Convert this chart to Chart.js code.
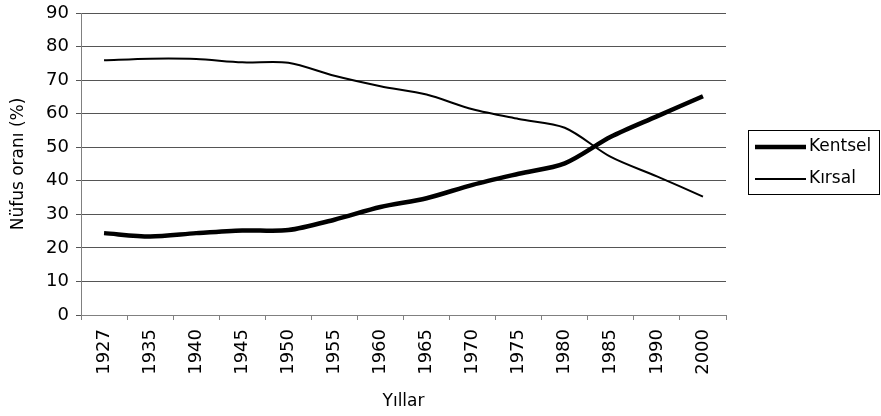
<!DOCTYPE html>
<html>
<head>
<meta charset="utf-8">
<script src="https://cdn.jsdelivr.net/npm/chart.js@4/dist/chart.umd.min.js"></script>
<style>
    html, body { margin: 0; padding: 0; background: #fff; }
    #wrap { width: 881px; height: 416px; }
</style>
</head>
<body>
<div id="wrap"><canvas id="chart" width="881" height="416"></canvas></div>
<script>
// Census years (category axis)
const years = ['1927', '1935', '1940', '1945', '1950', '1955', '1960', '1965', '1970', '1975', '1980', '1985', '1990', '2000'];

// Urban / rural population share (%)
const kentsel = [24.4, 23.4, 24.4, 25.2, 25.3, 28.4, 32.2, 34.8, 38.8, 42.1, 45.2, 53.1, 59.2, 65.2];
const kirsal = [75.9, 76.4, 76.3, 75.3, 75.2, 71.3, 68.2, 65.7, 61.3, 58.4, 55.8, 47.1, 41.3, 35.3];

const yTicks = [0, 10, 20, 30, 40, 50, 60, 70, 80, 90];

const FONT = '"DejaVu Sans", sans-serif';

// Boxed legend on the right, drawn by hand
const boxLegend = {
    id: 'boxLegend',
    afterDraw(chart) {
        const ctx = chart.ctx;
        const x0 = 748, y0 = 130, w = 132, h = 64;
        ctx.save();
        ctx.strokeStyle = '#000';
        ctx.lineWidth = 1;
        ctx.strokeRect(x0 + 0.5, y0 + 0.5, w - 1, h);
        chart.data.datasets.forEach((ds, i) => {
            const y = y0 + 17 + i * 32;
            ctx.beginPath();
            ctx.strokeStyle = ds.borderColor;
            ctx.lineWidth = ds.borderWidth;
            ctx.moveTo(755, y);
            ctx.lineTo(806, y);
            ctx.stroke();
            ctx.fillStyle = '#000';
            ctx.font = '17px ' + FONT;
            ctx.textBaseline = 'middle';
            ctx.fillText(ds.label, 809, y);
        });
        ctx.restore();
    }
};

new Chart(document.getElementById('chart'), {
    type: 'line',
    data: {
        labels: years,
        datasets: [{
            label: 'Kentsel',
            data: kentsel,
            borderColor: '#000',
            borderWidth: 4.5,
            pointRadius: 0,
            tension: 0.3,
            fill: false
        }, {
            label: 'Kırsal',
            data: kirsal,
            borderColor: '#000',
            borderWidth: 2,
            pointRadius: 0,
            tension: 0.3,
            fill: false
        }]
    },
    options: {
        responsive: false,
        animation: false,
        layout: { padding: { left: 0, right: 155, top: 13, bottom: 0 } },
        plugins: {
            legend: { display: false },
            tooltip: { enabled: false }
        },
        scales: {
            x: {
                offset: true,
                grid: {
                    offset: true,
                    drawOnChartArea: false,
                    color: '#808080',
                    tickLength: 5
                },
                border: { color: '#808080', width: 1 },
                ticks: {
                    color: '#000',
                    font: { family: FONT, size: 18 },
                    minRotation: 90,
                    maxRotation: 90,
                    autoSkip: false,
                    padding: 9
                },
                title: {
                    display: true,
                    text: 'Yıllar',
                    color: '#000',
                    font: { family: FONT, size: 17 },
                    padding: { top: 2, bottom: 4 }
                },
                afterFit(scale) { scale.height = 101; }
            },
            y: {
                min: 0,
                max: 90,
                afterBuildTicks(scale) {
                    scale.ticks = yTicks.map(v => ({ value: v }));
                },
                grid: {
                    color: '#555',
                    tickLength: 5
                },
                border: { color: '#808080', width: 1 },
                ticks: {
                    color: '#000',
                    font: { family: FONT, size: 18 },
                    padding: 7
                },
                title: {
                    display: true,
                    text: 'Nüfus oranı (%)',
                    color: '#000',
                    font: { family: FONT, size: 17 },
                    padding: { top: 8, bottom: 4 }
                },
                afterFit(scale) {
                    scale.width = 81;
                    scale.paddingTop = 0;
                    scale.paddingBottom = 0;
                }
            }
        }
    },
    plugins: [boxLegend]
});
</script>
</body>
</html>
